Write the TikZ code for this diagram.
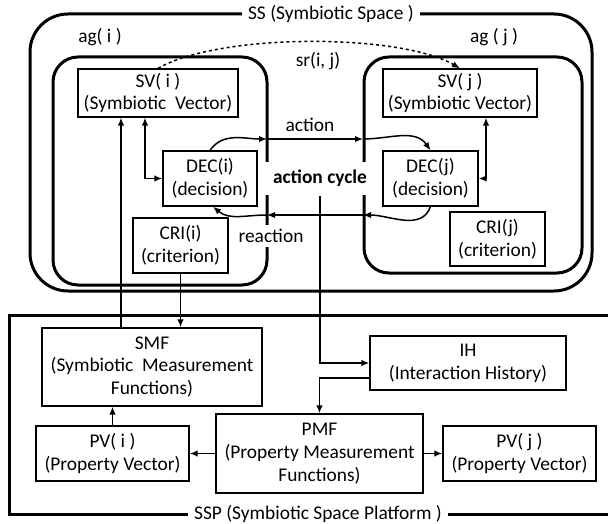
\documentclass[tikz,border=0pt]{standalone}
\usepackage{fontspec}
\setmainfont{Carlito}
\usepackage{tikz}
\usetikzlibrary{arrows.meta,positioning,calc}

\begin{document}
\begin{tikzpicture}[->, >={Latex[length=8pt,width=6.5pt]}, x=1pt, y=-1pt, line width=1.5pt,
  font=\fontsize{19.4}{22.7}\selectfont,
  box/.style={draw, line width=1.3pt, align=center, inner sep=0pt},
  frame/.style={-, line width=3pt},
  agent/.style={frame, rounded corners=25pt},
  lbl/.style={fill=white, inner sep=4pt}]
\useasboundingbox (0,0) rectangle (608,524);
\draw[frame, rounded corners=38pt] (30,14) rectangle (592,291);
\draw[agent] (53,57) rectangle (267,285);
\draw[agent] (364,57) rectangle (582,273);
\draw[frame] (608,315) -- (9,315) -- (9,514) -- (608,514);
\node[lbl, inner xsep=6pt] (SS) at (331,14) {SS (Symbiotic Space )};
\node[lbl, inner xsep=6pt] (SSP) at (318,514) {SSP (Symbiotic Space Platform )};
\node (agi) at (100,37) {ag( i )};
\node (agj) at (494,37) {ag ( j )};

\node[box, minimum width=160pt, minimum height=48pt] (SVi) at (158,93) {SV( i )\\(Symbiotic\ \ Vector)};
\node[box, minimum width=94pt, minimum height=55pt] (DECi) at (210,178.5) {DEC(i)\\(decision)};
\node[box, minimum width=95pt, minimum height=55pt] (CRIi) at (180.5,245.5) {CRI(i)\\(criterion)};
\node[box, minimum width=154pt, minimum height=48pt] (SVj) at (460,93) {SV( j )\\(Symbiotic Vector)};
\node[box, minimum width=95pt, minimum height=55pt] (DECj) at (430.5,178.5) {DEC(j)\\(decision)};
\node[box, minimum width=95pt, minimum height=54pt] (CRIj) at (497.5,239) {CRI(j)\\(criterion)};
\node[box, minimum width=220pt, minimum height=78pt] (SMF) at (152,367) {SMF\\(Symbiotic\ \ Measurement\\Functions)};
\node[box, minimum width=196pt, minimum height=54pt] (IH) at (468,363) {IH\\(Interaction History)};
\node[box, minimum width=153pt, minimum height=55pt] (PVi) at (112.5,453.5) {PV( i )\\(Property Vector)};
\node[box, minimum width=207pt, minimum height=79pt] (PMF) at (319.5,453.5) {PMF\\(Property Measurement\\Functions)};
\node[box, minimum width=153pt, minimum height=55pt] (PVj) at (519.5,453.5) {PV( j )\\(Property Vector)};

\node[fill=white, minimum width=114pt, minimum height=33pt, font=\fontsize{19.4}{22.7}\selectfont\bfseries] (cycle) at (320,178.5) {action cycle};
\node (act) at (310,125) {action};
\node[lbl] (react) at (271,236) {reaction};
\node (sr) at (318,61) {sr(i, j)};

\coordinate (a1) at (267,139);
\coordinate (a2) at (363,139);
\coordinate (r1) at (363,215);
\coordinate (r2) at (267,215);
\draw[->] (DECi.north) to[out=55,in=180] (a1);
\draw[->] (a1) -- (a2);
\draw[->] (a2) to[out=0,in=125] (DECj.north);
\draw[->] (DECj.south) to[out=-110,in=0] (r1);
\draw[->] (r1) -- (r2);
\draw[->] (r2) to[out=180,in=-40] ([xshift=3pt]DECi.south);
\draw[->, dashed] (SVi.north) to[out=30,in=150,looseness=0.6] (SVj.north);

\draw[<->] ([xshift=-13pt]SVi.south) |- (DECi.west);
\draw[<->] ([xshift=26pt]SVj.south) |- (DECj.east);
\draw[->] ([xshift=-31pt]SMF.north) -- ([xshift=-37pt]SVi.south);
\draw[->] (CRIi.south) -- (CRIi.south |- SMF.north);
\draw[->] (cycle.south) |- (IH.west);
\draw[->] ([yshift=-15pt]IH.west) -| (PMF.north);
\draw[->] (PMF.west) -- (PVi.east);
\draw[->] (PMF.east) -- (PVj.west);
\draw[->] (PVi.north) -- (PVi.north |- SMF.south);
\end{tikzpicture}
\end{document}
